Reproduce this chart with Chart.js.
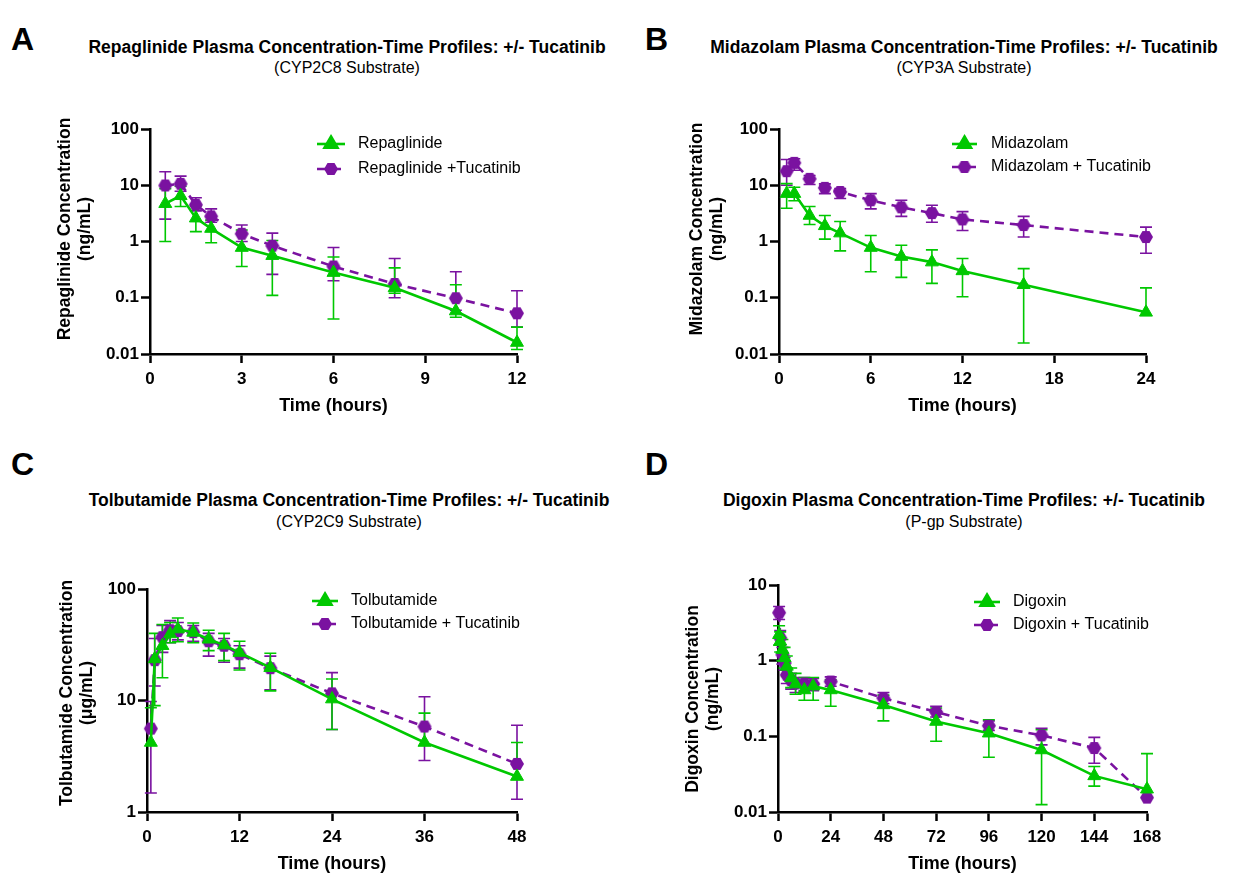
<!DOCTYPE html>
<html>
<head>
<meta charset="utf-8">
<script src="https://cdn.jsdelivr.net/npm/chart.js@4.4.1/dist/chart.umd.min.js"></script>
<style>
  body { margin: 0; background: #fff; font-family: "Liberation Sans", Arial, sans-serif; }
  #page { position: relative; width: 1240px; height: 880px; overflow: hidden; }
  .panel { position: absolute; width: 620px; height: 440px; }
  .panel canvas { position: absolute; left: 0; top: 0; }
  .letter { position: absolute; font-size: 32px; font-weight: bold; line-height: 32px; }
  .title, .sub { position: absolute; width: 640px; text-align: center; white-space: nowrap; }
  .title { font-size: 17.5px; font-weight: bold; line-height: 20px; }
  .sub { font-size: 16px; line-height: 20px; }
</style>
</head>
<body>
<div id="page">
  <div class="panel" style="left:0;top:0">
    <div class="letter" style="left:11px;top:23px">A</div>
    <div class="title" style="left:27px;top:37px">Repaglinide Plasma Concentration-Time Profiles: +/- Tucatinib</div>
    <div class="sub" style="left:27px;top:58px">(CYP2C8 Substrate)</div>
    <canvas id="chartA" width="620" height="440"></canvas>
  </div>
  <div class="panel" style="left:620px;top:0">
    <div class="letter" style="left:25px;top:23px">B</div>
    <div class="title" style="left:24px;top:37px">Midazolam Plasma Concentration-Time Profiles: +/- Tucatinib</div>
    <div class="sub" style="left:24px;top:58px">(CYP3A Substrate)</div>
    <canvas id="chartB" width="620" height="440"></canvas>
  </div>
  <div class="panel" style="left:0;top:440px">
    <div class="letter" style="left:11px;top:8px">C</div>
    <div class="title" style="left:29px;top:50px">Tolbutamide Plasma Concentration-Time Profiles: +/- Tucatinib</div>
    <div class="sub" style="left:29px;top:72px">(CYP2C9 Substrate)</div>
    <canvas id="chartC" width="620" height="440"></canvas>
  </div>
  <div class="panel" style="left:620px;top:440px">
    <div class="letter" style="left:25px;top:8px">D</div>
    <div class="title" style="left:24px;top:50px">Digoxin Plasma Concentration-Time Profiles: +/- Tucatinib</div>
    <div class="sub" style="left:24px;top:72px">(P-gp Substrate)</div>
    <canvas id="chartD" width="620" height="440"></canvas>
  </div>
</div>

<script>
// ---- data (mean, upper / lower error bar ends) ----

// A: repaglinide (ng/mL)
const timesA = [0.5, 1, 1.5, 2, 3, 4, 6, 8, 10, 12];
const repaglinide     = [4.7, 6.5, 2.6, 1.7, 0.78, 0.56, 0.28, 0.15, 0.058, 0.016];
const repaglinideHi   = [8.7, 9.6, 4.3, 2.4, 1.6, 1.04, 0.53, 0.34, 0.17, 0.03];
const repaglinideLo   = [1.0, 4.2, 1.5, 0.95, 0.36, 0.11, 0.042, 0.12, 0.045, 0.012];
const repaglinideT    = [9.9, 10.6, 4.5, 2.8, 1.37, 0.84, 0.36, 0.176, 0.098, 0.053];
const repaglinideTHi  = [17.4, 14.5, 6.0, 3.8, 1.96, 1.41, 0.78, 0.5, 0.29, 0.133];
const repaglinideTLo  = [2.5, 7.8, 3.5, 2.2, 1.0, 0.26, 0.2, 0.1, 0.06, 0.03];

// B: midazolam (ng/mL)
const timesB = [0.5, 1, 2, 3, 4, 6, 8, 10, 12, 16, 24];
const midazolam       = [7.1, 7.1, 2.9, 1.9, 1.41, 0.78, 0.54, 0.43, 0.30, 0.17, 0.055];
const midazolamHi     = [10.7, 9.2, 4.2, 2.9, 2.27, 1.28, 0.86, 0.71, 0.5, 0.33, 0.15];
const midazolamLo     = [3.9, 5.3, 2.0, 1.1, 0.68, 0.29, 0.23, 0.18, 0.104, 0.0157, null];
const midazolamT      = [17.8, 25, 13, 9.0, 7.6, 5.4, 4.05, 3.2, 2.47, 1.96, 1.2];
const midazolamTHi    = [28.7, 29.5, 14.9, 10.6, 8.7, 7.1, 5.4, 4.4, 3.4, 2.8, 1.8];
const midazolamTLo    = [10, 18.5, 10.3, 7.1, 5.8, 3.8, 2.8, 2.2, 1.57, 1.2, 0.62];

// C: tolbutamide (ug/mL)
const timesC = [0.5, 1, 2, 3, 4, 6, 8, 10, 12, 16, 24, 36, 48];
const tolbutamide     = [4.2, 23.6, 31, 39.5, 43.7, 40.8, 35.4, 31.4, 26.9, 19.7, 10.3, 4.2, 2.08];
const tolbutamideHi   = [8.6, 40, 48, 50, 55, 49.6, 42.7, 40, 34, 26.5, 15.6, 7.7, 4.2];
const tolbutamideLo   = [null, 9, 16, 33, 33.6, 33, 28, 22.8, 18.8, 12.2, 5.5, null, null];
const tolbutamideT    = [5.6, 23, 37, 42.7, 42, 41, 34, 31, 26, 19.5, 11.6, 5.84, 2.7];
const tolbutamideTHi  = [9.8, 36, 47, 52, 50, 47, 40, 36, 31, 25, 17.8, 10.8, 6.0];
const tolbutamideTLo  = [1.48, 13.5, 27, 33, 35, 34, 25, 22, 19.5, 12.5, 5.5, 2.9, 1.3];

// D: digoxin (ng/mL)
const timesD = [0.5, 1, 2, 3, 4, 6, 8, 12, 16, 24, 48, 72, 96, 120, 144, 168];
const digoxin         = [2.2, 1.8, 1.4, 1.09, 0.84, 0.59, 0.49, 0.41, 0.46, 0.41, 0.26, 0.157, 0.11, 0.066, 0.030, 0.020];
const digoxinHi       = [2.9, 2.4, 1.9, 1.5, 1.15, 0.8, 0.68, 0.6, 0.6, 0.56, 0.35, 0.237, 0.166, 0.122, 0.04, 0.059];
const digoxinLo       = [1.6, 1.3, 1.0, 0.8, 0.62, 0.44, 0.36, 0.3, 0.3, 0.25, 0.16, 0.086, 0.053, 0.0125, 0.022, null];
const digoxinT        = [4.3, 2.0, 1.2, 0.93, 0.65, 0.55, 0.5, 0.5, 0.49, 0.53, 0.32, 0.21, 0.138, 0.103, 0.07, 0.0155];
const digoxinTHi      = [5.2, 2.5, 1.5, 1.1, 0.8, 0.68, 0.6, 0.6, 0.58, 0.61, 0.38, 0.25, 0.16, 0.128, 0.097, null];
const digoxinTLo      = [3.5, 1.6, 0.9, 0.75, 0.5, 0.42, 0.38, 0.4, 0.4, 0.46, 0.27, 0.18, 0.12, 0.077, 0.044, null];

// axis ticks
const yTicksA = [0.01, 0.1, 1, 10, 100];
const yLabelsA = ['0.01', '0.1', '1', '10', '100'];
const yTicksC = [1, 10, 100];
const yLabelsC = ['1', '10', '100'];
const yTicksD = [0.01, 0.1, 1, 10];
const yLabelsD = ['0.01', '0.1', '1', '10'];

const GREEN = 'rgb(0,200,0)';
const PURPLE = 'rgb(122,18,160)';
const FONT = '"Liberation Sans", Arial, sans-serif';

function hexagon(color, r) {
  const c = document.createElement('canvas');
  const s = Math.ceil(2 * r + 2);
  c.width = s; c.height = s;
  const g = c.getContext('2d');
  g.fillStyle = color;
  g.beginPath();
  for (let i = 0; i < 6; i++) {
    const a = Math.PI / 3 * i;
    const x = s / 2 + r * Math.cos(a), y = s / 2 + r * Math.sin(a);
    i ? g.lineTo(x, y) : g.moveTo(x, y);
  }
  g.closePath();
  g.fill();
  return c;
}
const HEX = hexagon(PURPLE, 7);

const toPts = (xs, ys) => xs.map((x, i) => ({x: x, y: ys[i]}));

// error bars drawn from the scales
const errorBars = {
  id: 'errorBars',
  beforeDatasetsDraw(chart) {
    const {ctx, scales: {x, y}} = chart;
    for (let i = chart.data.datasets.length - 1; i >= 0; i--) {
      const ds = chart.data.datasets[i];
      ctx.save();
      ctx.strokeStyle = ds.borderColor;
      ctx.lineWidth = 1.6;
      ctx.beginPath();
      ds.data.forEach((p, j) => {
        const px = x.getPixelForValue(p.x);
        const py = y.getPixelForValue(p.y);
        [ds.errHi[j], ds.errLo[j]].forEach(v => {
          if (v == null) return;
          const ye = y.getPixelForValue(v);
          ctx.moveTo(px, py); ctx.lineTo(px, ye);
          ctx.moveTo(px - 6, ye); ctx.lineTo(px + 6, ye);
        });
      });
      ctx.stroke();
      ctx.restore();
    }
  }
};

// line + marker legend inside the plot
const lineLegend = {
  id: 'lineLegend',
  afterDraw(chart, args, opts) {
    const ctx = chart.ctx;
    chart.data.datasets.forEach((ds, i) => {
      const y = opts.rows[i];
      ctx.save();
      ctx.strokeStyle = ds.borderColor;
      ctx.lineWidth = ds.borderWidth;
      ctx.setLineDash(ds.borderDash || []);
      ctx.beginPath();
      ctx.moveTo(opts.x0, y); ctx.lineTo(opts.x1, y);
      ctx.stroke();
      ctx.setLineDash([]);
      ctx.fillStyle = ds.pointBackgroundColor;
      ctx.strokeStyle = ds.pointBorderColor;
      Chart.helpers.drawPoint(ctx, {pointStyle: ds.pointStyle, radius: ds.pointRadius, rotation: 0, borderWidth: 1}, (opts.x0 + opts.x1) / 2, y);
      ctx.fillStyle = '#000';
      ctx.font = '16px ' + FONT;
      ctx.textBaseline = 'middle';
      ctx.fillText(ds.label, opts.tx, y);
      ctx.restore();
    });
  }
};

// two-line rotated y title, placed a little above the plot centre like the original
const yTitle = {
  id: 'yTitle',
  afterDraw(chart, args, opts) {
    const ctx = chart.ctx;
    ctx.save();
    ctx.translate(opts.x, opts.cy);
    ctx.rotate(-Math.PI / 2);
    ctx.fillStyle = '#000';
    ctx.font = 'bold 17.5px ' + FONT;
    ctx.textAlign = 'center';
    ctx.textBaseline = 'middle';
    opts.lines.forEach((t, k) => ctx.fillText(t, 0, k * 20.5));
    ctx.restore();
  }
};

function makeChart(id, p) {
  const tickFont = {family: FONT, size: 17, weight: 'bold'};
  return new Chart(document.getElementById(id), {
    type: 'line',
    data: {
      datasets: [{
        label: p.names[0],
        data: toPts(p.times, p.a),
        errHi: p.aHi, errLo: p.aLo,
        borderColor: GREEN, backgroundColor: GREEN,
        pointBackgroundColor: GREEN, pointBorderColor: GREEN,
        pointStyle: 'triangle', pointRadius: 7.5, pointBorderWidth: 1,
        borderWidth: 2.6, tension: 0, clip: false
      }, {
        label: p.names[1],
        data: toPts(p.times, p.b),
        errHi: p.bHi, errLo: p.bLo,
        borderColor: PURPLE, backgroundColor: PURPLE,
        pointBackgroundColor: PURPLE, pointBorderColor: PURPLE,
        pointStyle: HEX, pointRadius: 7,
        borderWidth: 2.6, borderDash: [9, 6], tension: 0, clip: false
      }]
    },
    options: {
      responsive: false,
      animation: false,
      events: [],
      layout: {padding: p.pad},
      plugins: {
        legend: {display: false},
        tooltip: {enabled: false},
        lineLegend: p.legend,
        yTitle: p.yTitle
      },
      scales: {
        x: {
          type: 'linear', min: 0, max: p.xMax,
          ticks: {stepSize: p.xStep, font: tickFont, color: '#000', padding: 6},
          grid: {drawOnChartArea: false, tickLength: 9, tickWidth: 2.5, tickColor: '#000'},
          border: {color: '#000', width: 2.5},
          title: {display: true, text: 'Time (hours)', color: '#000',
                  font: {family: FONT, size: 18, weight: 'bold', lineHeight: 1.2}, padding: 0},
          afterFit(s) { s.height = 63; }
        },
        y: {
          type: 'logarithmic', min: p.yTicks[0], max: p.yTicks[p.yTicks.length - 1],
          afterBuildTicks(s) { s.ticks = p.yTicks.map(v => ({value: v})); },
          ticks: {font: tickFont, color: '#000', padding: 2,
                  callback: v => p.yLabels[p.yTicks.indexOf(v)]},
          grid: {drawOnChartArea: false, tickLength: 9, tickWidth: 2.5, tickColor: '#000'},
          border: {color: '#000', width: 2.5},
          afterFit(s) { s.width = p.yW; }
        }
      }
    },
    plugins: [errorBars, lineLegend, yTitle]
  });
}

makeChart('chartA', {
  times: timesA, a: repaglinide, aHi: repaglinideHi, aLo: repaglinideLo,
  b: repaglinideT, bHi: repaglinideTHi, bLo: repaglinideTLo,
  names: ['Repaglinide', 'Repaglinide +Tucatinib'],
  xMax: 12, xStep: 3, yTicks: yTicksA, yLabels: yLabelsA,
  yTitle: {lines: ['Repaglinide Concentration', '(ng/mL)'], x: 65, cy: 229},
  pad: {left: 50, right: 103, top: 129, bottom: 23}, yW: 100,
  legend: {x0: 317, x1: 345, tx: 358, rows: [144, 169]}
});

makeChart('chartB', {
  times: timesB, a: midazolam, aHi: midazolamHi, aLo: midazolamLo,
  b: midazolamT, bHi: midazolamTHi, bLo: midazolamTLo,
  names: ['Midazolam', 'Midazolam + Tucatinib'],
  xMax: 24, xStep: 6, yTicks: yTicksA, yLabels: yLabelsA,
  yTitle: {lines: ['Midazolam Concentration', '(ng/mL)'], x: 77, cy: 229},
  pad: {left: 62, right: 94, top: 129, bottom: 23}, yW: 97,
  legend: {x0: 332, x1: 357, tx: 371, rows: [144, 167]}
});

makeChart('chartC', {
  times: timesC, a: tolbutamide, aHi: tolbutamideHi, aLo: tolbutamideLo,
  b: tolbutamideT, bHi: tolbutamideTHi, bLo: tolbutamideTLo,
  names: ['Tolbutamide', 'Tolbutamide + Tucatinib'],
  xMax: 48, xStep: 12, yTicks: yTicksC, yLabels: yLabelsC,
  yTitle: {lines: ['Tolbutamide Concentration', '(\u03bcg/mL)'], x: 67, cy: 253},
  pad: {left: 52, right: 103, top: 149, bottom: 5}, yW: 95,
  legend: {x0: 312, x1: 338, tx: 351, rows: [161, 184]}
});

makeChart('chartD', {
  times: timesD, a: digoxin, aHi: digoxinHi, aLo: digoxinLo,
  b: digoxinT, bHi: digoxinTHi, bLo: digoxinTLo,
  names: ['Digoxin', 'Digoxin + Tucatinib'],
  xMax: 168, xStep: 24, yTicks: yTicksD, yLabels: yLabelsD,
  yTitle: {lines: ['Digoxin Concentration', '(ng/mL)'], x: 73, cy: 259},
  pad: {left: 58, right: 93, top: 145, bottom: 5}, yW: 100,
  legend: {x0: 354, x1: 380, tx: 393, rows: [162, 185]}
});
</script>
</body>
</html>
